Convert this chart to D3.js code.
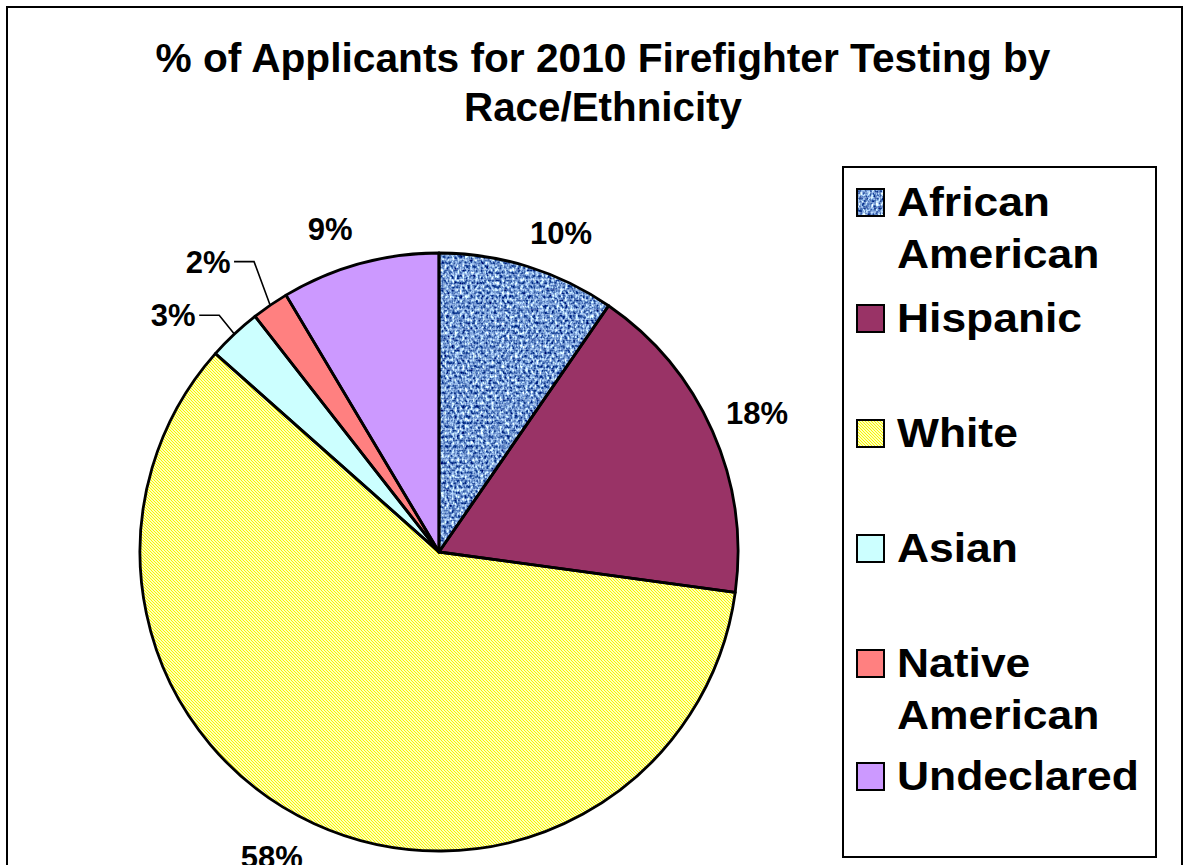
<!DOCTYPE html>
<html><head><meta charset="utf-8">
<script src="https://cdn.jsdelivr.net/npm/d3@7"></script>
<style>
html,body{margin:0;padding:0;background:#fff;}
svg{display:block;}
text{font-family:"Liberation Sans",Arial,sans-serif;font-weight:bold;fill:#000;}
</style></head>
<body>
<svg id="chart" width="1189" height="865"></svg>
<script>
// ---- data ----
const categories = ["African American", "Hispanic", "White", "Asian", "Native American", "Undeclared"];
const shares = [9.6, 17.55, 59.4, 2.9, 2.0, 8.55];
const pctLabels = ["10%", "18%", "58%", "3%", "2%", "9%"];
const legendLines = [["African", "American"], ["Hispanic"], ["White"], ["Asian"], ["Native", "American"], ["Undeclared"]];
const titleLines = ["% of Applicants for 2010 Firefighter Testing by", "Race/Ethnicity"];

// ---- layout / style ----
const cx = 439, cy = 552, R = 299;
const fills = ["url(#denim)", "#993366", "url(#yellowHatch)", "#ccffff", "#ff8080", "#cc99ff"];
// label placement: polar angle (deg, clockwise from top) and radius from pie centre
const labelPolar = [[20.9, 342], [66.4, 347], [208.7, 348], [311.7, 356], [321.5, 371], [341.4, 341]];
const leaderSlices = [3, 4];

const svg = d3.select("#chart");
const defs = svg.append("defs");

// denim-like texture
const f = defs.append("filter").attr("id", "denimFilter").attr("x", 0).attr("y", 0).attr("width", 1).attr("height", 1)
  .attr("color-interpolation-filters", "sRGB");
f.append("feTurbulence").attr("type", "fractalNoise").attr("baseFrequency", "0.38 0.3").attr("numOctaves", 2).attr("seed", 7).attr("result", "noise");
f.append("feColorMatrix").attr("in", "noise").attr("type", "matrix")
  .attr("values", "2.0 0 0 0 -0.55  1.9 0 0 0 -0.35  1.3 0 0 0 0.18  0 0 0 0 1").attr("result", "col");
f.append("feComposite").attr("in", "col").attr("in2", "SourceGraphic").attr("operator", "in");

const pat = defs.append("pattern").attr("id", "denim").attr("patternUnits", "userSpaceOnUse")
  .attr("width", 400).attr("height", 400);
pat.append("rect").attr("width", 400).attr("height", 400).attr("fill", "#6f8fc8").attr("filter", "url(#denimFilter)");
// faint woven grid over the noise
const weave = defs.append("pattern").attr("id", "weave").attr("patternUnits", "userSpaceOnUse").attr("width", 5).attr("height", 5);
weave.append("rect").attr("x", 0).attr("y", 0).attr("width", 1).attr("height", 5).attr("fill", "#2a4c86").attr("opacity", 0.3);
weave.append("rect").attr("x", 0).attr("y", 2).attr("width", 5).attr("height", 1).attr("fill", "#c8dafa").attr("opacity", 0.35);
pat.append("rect").attr("width", 400).attr("height", 400).attr("fill", "url(#weave)");

const hatch = defs.append("pattern").attr("id", "yellowHatch").attr("patternUnits", "userSpaceOnUse")
  .attr("width", 3).attr("height", 3);
hatch.append("rect").attr("width", 3).attr("height", 3).attr("fill", "#ffffb8");
hatch.append("path").attr("d", "M0,0h1v1h-1z M1,1h1v1h-1z M2,2h1v1h-1z").attr("fill", "#f5f500");

// outer frame
svg.append("rect").attr("x", 7).attr("y", 7).attr("width", 1175).attr("height", 880)
  .attr("fill", "#fff").attr("stroke", "#000").attr("stroke-width", 2);

// title
const titleBase = [72, 121];
const titleWidths = [895, 278];
titleLines.forEach((t, i) => {
  svg.append("text").attr("x", 603).attr("y", titleBase[i]).attr("text-anchor", "middle")
    .attr("font-size", 40).attr("textLength", titleWidths[i]).attr("lengthAdjust", "spacingAndGlyphs")
    .text(t);
});

// pie
const pie = d3.pie().sort(null).value(d => d);
const arcs = pie(shares);
const arc = d3.arc().innerRadius(0).outerRadius(R);
const g = svg.append("g").attr("transform", `translate(${cx},${cy})`);
g.selectAll("path.slice").data(arcs).join("path").attr("class", "slice")
  .attr("d", arc).attr("fill", (d, i) => fills[i]).attr("stroke", "none");
g.selectAll("path.edge").data(arcs).join("path").attr("class", "edge")
  .attr("d", arc).attr("fill", "none").attr("stroke", "#000").attr("stroke-width", 2.8).attr("stroke-linejoin", "round");

// labels
const polar = (deg, r) => [Math.sin(deg * Math.PI / 180) * r, -Math.cos(deg * Math.PI / 180) * r];
arcs.forEach((d, i) => {
  const [x, y] = polar(labelPolar[i][0], labelPolar[i][1]);
  g.append("text").attr("x", x).attr("y", y + 11).attr("text-anchor", "middle")
    .attr("font-size", 31).text(pctLabels[i]);
});

// leader lines
leaderSlices.forEach(i => {
  const d = arcs[i];
  const mid = (d.startAngle + d.endAngle) / 2;
  const rim = [Math.sin(mid) * R, -Math.cos(mid) * R];
  const [lx, ly] = polar(labelPolar[i][0], labelPolar[i][1]);
  const start = [lx + 26, ly];
  const elbow = [lx + 46, ly];
  g.append("path").attr("d", d3.line()([start, elbow, rim]))
    .attr("fill", "none").attr("stroke", "#000").attr("stroke-width", 1.6);
});

// legend
svg.append("rect").attr("x", 843).attr("y", 167).attr("width", 313).attr("height", 690)
  .attr("fill", "#fff").attr("stroke", "#000").attr("stroke-width", 2);
const legBase = [216, 332, 447, 562, 677, 790];
const legLineGap = 52;
categories.forEach((c, i) => {
  const b = legBase[i];
  svg.append("rect").attr("x", 857).attr("y", b - 27).attr("width", 27).attr("height", 27)
    .attr("fill", fills[i]).attr("stroke", "#000").attr("stroke-width", 2);
  legendLines[i].forEach((t, j) => {
    const tx = svg.append("text").attr("x", 897).attr("y", b + j * legLineGap).attr("font-size", 40).text(t);
    const w = tx.node().getComputedTextLength();
    tx.attr("textLength", w * 1.11).attr("lengthAdjust", "spacingAndGlyphs");
  });
});
</script>
</body></html>
